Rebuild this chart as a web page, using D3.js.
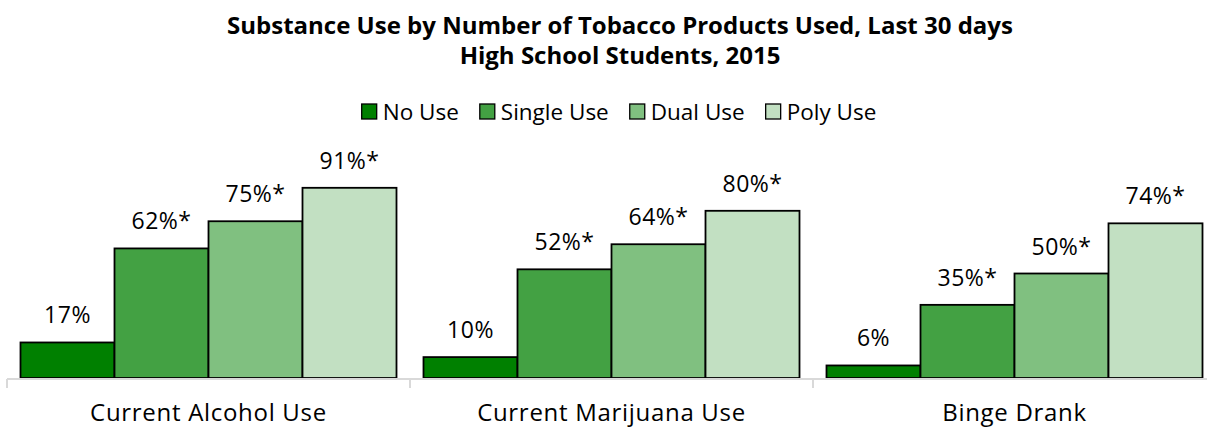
<!DOCTYPE html>
<html>
<head>
<meta charset="utf-8">
<script src="https://cdn.jsdelivr.net/npm/d3@7"></script>
<style>
  body { margin: 0; background: #fff; }
  text { font-family: "Open Sans", "Noto Sans", sans-serif; fill: #000; }
</style>
</head>
<body>
<div class="chart"></div>
<script>
// 数据
const categories = ["Current Alcohol Use", "Current Marijuana Use", "Binge Drank"];
const seriesNames = ["No Use", "Single Use", "Dual Use", "Poly Use"];
const noUse = [17, 10, 6];
const singleUse = [62, 52, 35];
const dualUse = [75, 64, 50];
const polyUse = [91, 80, 74];
const labels = [
  ["17%", "62%*", "75%*", "91%*"],
  ["10%", "52%*", "64%*", "80%*"],
  ["6%", "35%*", "50%*", "74%*"]
];
const colors = ["#008000", "#43a143", "#80c080", "#c2e0c2"];

const width = 1207, height = 430;

const svg = d3.select(".chart")
  .append("svg")
  .attr("width", width)
  .attr("height", height);

// 标题
const title = svg.append("text")
  .attr("text-anchor", "middle")
  .attr("font-weight", "bold")
  .attr("font-size", 24);
title.append("tspan").attr("x", 620).attr("y", 34)
  .text("Substance Use by Number of Tobacco Products Used, Last 30 days");
title.append("tspan").attr("x", 620).attr("y", 64)
  .text("High School Students, 2015");

// 比例尺
const x0 = d3.scaleBand()
  .domain(categories)
  .range([7, 1216])
  .paddingInner(0)
  .paddingOuter(0);

const x1 = d3.scaleBand()
  .domain(seriesNames)
  .range([13.5, x0.bandwidth() - 13.5])
  .padding(0);

const y = d3.scaleLinear()
  .domain([0, 100])
  .range([378, 169]);

const rows = categories.map((c, i) => ({
  cat: c,
  vals: [noUse[i], singleUse[i], dualUse[i], polyUse[i]].map((v, j) => ({
    key: seriesNames[j], value: v, label: labels[i][j], color: colors[j]
  }))
}));

const groups = svg.selectAll("g.group")
  .data(rows)
  .enter()
  .append("g")
  .attr("class", "group")
  .attr("transform", d => "translate(" + x0(d.cat) + ",0)");

groups.selectAll("rect")
  .data(d => d.vals)
  .enter()
  .append("rect")
  .attr("x", d => x1(d.key))
  .attr("y", d => y(d.value))
  .attr("width", x1.bandwidth())
  .attr("height", d => y(0) - y(d.value))
  .attr("fill", d => d.color)
  .attr("stroke", "#000")
  .attr("stroke-width", 1.8);

groups.selectAll("text.lbl")
  .data(d => d.vals)
  .enter()
  .append("text")
  .attr("class", "lbl")
  .attr("x", d => x1(d.key) + x1.bandwidth() / 2)
  .attr("y", d => y(d.value) - 19)
  .attr("text-anchor", "middle")
  .attr("font-size", 23)
  .attr("letter-spacing", 0.5)
  .text(d => d.label);

// x轴
svg.append("line")
  .attr("x1", 7).attr("x2", 1216)
  .attr("y1", 379).attr("y2", 379)
  .attr("stroke", "#d9d9d9")
  .attr("stroke-width", 2);

svg.selectAll("line.tick")
  .data(categories.map(c => x0(c)).concat([x0.range()[1]]))
  .enter()
  .append("line")
  .attr("class", "tick")
  .attr("x1", d => d).attr("x2", d => d)
  .attr("y1", 379).attr("y2", 388)
  .attr("stroke", "#d9d9d9")
  .attr("stroke-width", 2);

svg.selectAll("text.cat")
  .data(categories)
  .enter()
  .append("text")
  .attr("class", "cat")
  .attr("x", d => x0(d) + x0.bandwidth() / 2)
  .attr("y", 421)
  .attr("text-anchor", "middle")
  .attr("font-size", 24)
  .attr("letter-spacing", 0.7)
  .text(d => d);

// 图例
const legend = svg.append("g");
const legendItems = legend.selectAll("g")
  .data(seriesNames)
  .enter()
  .append("g");

legendItems.append("rect")
  .attr("width", 15).attr("height", 15)
  .attr("y", 104)
  .attr("fill", (d, i) => colors[i])
  .attr("stroke", "#000")
  .attr("stroke-width", 1.3);

legendItems.append("text")
  .attr("x", 21)
  .attr("y", 120)
  .attr("font-size", 22.5)
  .text(d => d);

// 水平居中排列图例
let lx = 0;
const legendStarts = [];
legendItems.each(function() {
  legendStarts.push(lx);
  lx += 21 + this.querySelector("text").getComputedTextLength() + 21;
});
const legendW = lx - 21;
legendItems.attr("transform", (d, i) => "translate(" + (619 - legendW / 2 + legendStarts[i]) + ",0)");
</script>
</body>
</html>
